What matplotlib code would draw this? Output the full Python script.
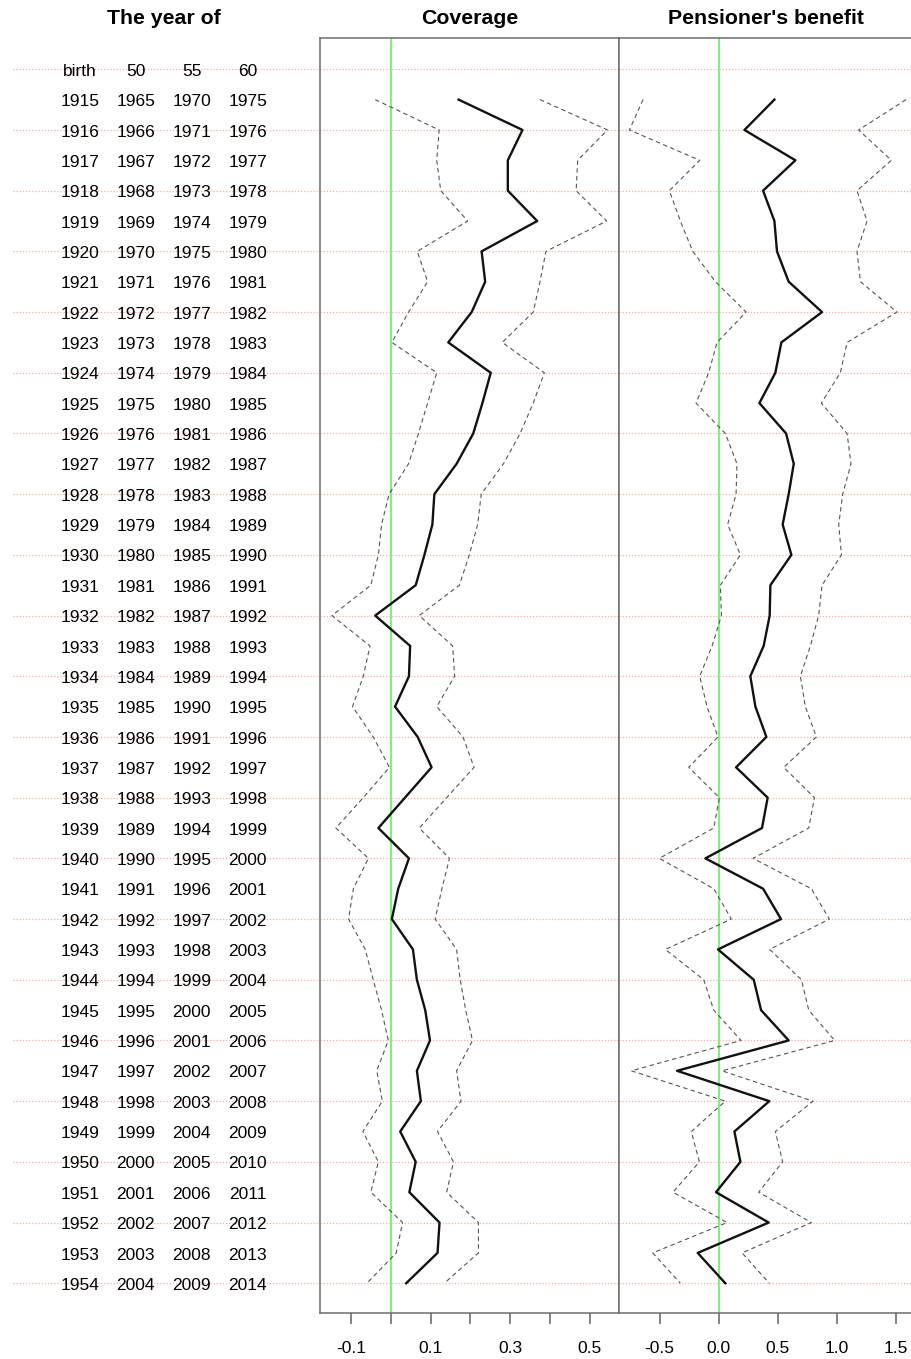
import numpy as np
import matplotlib
matplotlib.use("Agg")
import matplotlib.pyplot as plt

plt.rcParams["font.family"] = ["Liberation Sans", "DejaVu Sans"]
plt.rcParams["axes.unicode_minus"] = False

birth = list(range(1915, 1955))

# coverage estimates with lower / upper bounds
cov_mid = [0.170, 0.331, 0.294, 0.294, 0.368, 0.228, 0.237, 0.203, 0.144, 0.251,
           0.230, 0.207, 0.165, 0.109, 0.104, 0.084, 0.062, -0.040, 0.048, 0.045,
           0.010, 0.067, 0.102, 0.035, -0.032, 0.045, 0.018, 0.002, 0.055, 0.065,
           0.086, 0.098, 0.065, 0.075, 0.023, 0.062, 0.046, 0.122, 0.117, 0.038]
cov_lo = [-0.040, 0.121, 0.115, 0.125, 0.193, 0.066, 0.092, 0.044, 0.002, 0.115,
          0.092, 0.069, 0.044, -0.005, -0.024, -0.032, -0.051, -0.149, -0.053, -0.070,
          -0.097, -0.045, -0.004, -0.070, -0.139, -0.057, -0.095, -0.107, -0.065, -0.045,
          -0.024, -0.007, -0.036, -0.022, -0.071, -0.032, -0.051, 0.029, 0.013, -0.061]
cov_hi = [0.375, 0.545, 0.470, 0.466, 0.543, 0.390, 0.375, 0.358, 0.280, 0.386,
          0.358, 0.325, 0.283, 0.227, 0.218, 0.197, 0.172, 0.071, 0.155, 0.160,
          0.115, 0.181, 0.209, 0.140, 0.071, 0.147, 0.128, 0.111, 0.165, 0.174,
          0.188, 0.205, 0.165, 0.176, 0.117, 0.157, 0.140, 0.220, 0.220, 0.134]

# pensioner's benefit estimates with lower / upper bounds
pen_mid = [0.472, 0.218, 0.650, 0.376, 0.472, 0.494, 0.593, 0.876, 0.531, 0.480,
           0.345, 0.571, 0.636, 0.593, 0.542, 0.616, 0.438, 0.432, 0.381, 0.268,
           0.311, 0.404, 0.147, 0.415, 0.367, -0.113, 0.376, 0.528, -0.006, 0.297,
           0.359, 0.593, -0.353, 0.429, 0.133, 0.184, -0.023, 0.424, -0.178, 0.056]
pen_lo = [-0.641, -0.757, -0.161, -0.418, -0.325, -0.220, -0.028, 0.232, -0.014, -0.085,
          -0.192, 0.056, 0.155, 0.147, 0.076, 0.184, 0.014, 0.023, -0.056, -0.161,
          -0.099, -0.006, -0.254, 0.006, -0.042, -0.503, -0.042, 0.107, -0.452, -0.127,
          -0.042, 0.189, -0.740, 0.056, -0.232, -0.164, -0.387, 0.071, -0.559, -0.325]
pen_hi = [1.588, 1.186, 1.463, 1.172, 1.257, 1.172, 1.201, 1.511, 1.088, 1.031,
          0.870, 1.088, 1.121, 1.051, 1.017, 1.040, 0.876, 0.847, 0.777, 0.692,
          0.734, 0.828, 0.551, 0.811, 0.763, 0.291, 0.785, 0.938, 0.432, 0.701,
          0.763, 0.983, 0.028, 0.799, 0.480, 0.542, 0.339, 0.785, 0.198, 0.429]

col_heads = ["birth", "50", "55", "60"]
offsets = [0, 50, 55, 60]

cov_ticks = [-0.1, 0.0, 0.1, 0.2, 0.3, 0.4, 0.5]
cov_ticklabels = ["-0.1", "", "0.1", "", "0.3", "", "0.5"]
pen_ticks = [-0.5, 0.0, 0.5, 1.0, 1.5]
pen_ticklabels = ["-0.5", "0.0", "0.5", "1.0", "1.5"]

rows = np.arange(1, len(birth) + 1)
W, H = 912, 1359
fig = plt.figure(figsize=(W / 100, H / 100), dpi=100)

top, bot = 38, 1313
ylim = (40.98, -1.03)
grid_rows = np.arange(0, 41, 2)
grid_kw = dict(color="#ffaaaa", lw=0.9, ls=(0, (1, 1.5)), zorder=0, snap=True)
frame_col = "#6e6e6e"
txt_dy = 0.07  # nudge digits onto the row line


def px_box(x0, x1):
    return [x0 / W, 1 - bot / H, (x1 - x0) / W, (bot - top) / H]


# left text table
axt = fig.add_axes(px_box(0, 320))
axt.set_xlim(0, 320)
axt.set_ylim(*ylim)
axt.axis("off")
for g in grid_rows:
    axt.plot([13, 320], [g, g], **grid_kw)
col_x = [80, 135.7, 191.7, 247.7]
for cx, h in zip(col_x, col_heads):
    axt.text(cx, txt_dy, h, ha="center", va="center", fontsize=12.5)
for r, b in zip(rows, birth):
    for cx, off in zip(col_x, offsets):
        axt.text(cx, r + txt_dy, str(b + off), ha="center", va="center", fontsize=12.5)


def panel(x0, x1, xlim, mid, lo, hi, ticks, labels):
    ax = fig.add_axes(px_box(x0, x1))
    ax.set_xlim(*xlim)
    ax.set_ylim(*ylim)
    for g in grid_rows:
        ax.axhline(g, **grid_kw)
    ax.axvline(0, color="#80f080", lw=1.5, zorder=1)
    ax.plot(lo, rows, color="#555555", lw=0.8, dashes=(4, 3), zorder=2)
    ax.plot(hi, rows, color="#555555", lw=0.8, dashes=(4, 3), zorder=2)
    ax.plot(mid, rows, color="#111111", lw=1.7, zorder=3)
    ax.set_yticks([])
    ax.set_xticks(ticks)
    ax.set_xticklabels(labels, fontsize=12.5)
    ax.tick_params(axis="x", length=8, width=1.2, color=frame_col, pad=12)
    for s in ax.spines.values():
        s.set_color(frame_col)
        s.set_linewidth(1.1)
    return ax


panel(320, 619, (-0.179, 0.574), cov_mid, cov_lo, cov_hi, cov_ticks, cov_ticklabels)
panel(619, 918, (-0.845, 1.689), pen_mid, pen_lo, pen_hi, pen_ticks, pen_ticklabels)

fig.text(164 / W, 1 - 18 / H, "The year of", ha="center", va="center",
         fontsize=15.3, fontweight="bold")
fig.text(469.5 / W, 1 - 18 / H, "Coverage", ha="center", va="center",
         fontsize=15.3, fontweight="bold")
fig.text(766 / W, 1 - 18 / H, "Pensioner's benefit", ha="center", va="center",
         fontsize=15.3, fontweight="bold")

fig.savefig("out.png", dpi=100)
